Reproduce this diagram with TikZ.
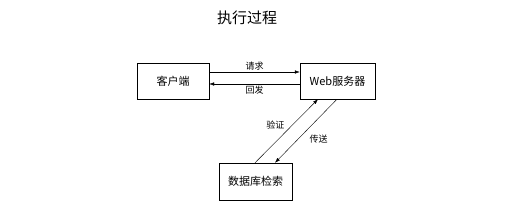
\documentclass[tikz,border=0pt]{standalone}
\usepackage{fontspec}
\setmainfont{Noto Sans CJK SC}
\usetikzlibrary{arrows.meta, positioning}

\begin{document}
\begin{tikzpicture}[x=1pt, y=-1pt,
        box/.style={rectangle, draw, thin, minimum height=36pt, font=\fontsize{11}{13}\selectfont},
        flow/.style={thin, -{Latex[length=5pt, width=3.5pt]}},
        lbl/.style={font=\fontsize{9}{11}\selectfont, inner sep=2pt},
    ]
        \useasboundingbox (0,0) rectangle (528,205);

        % Title
        \node[font=\fontsize{15}{17}\selectfont] (title) at (247,18) {执行过程};

        % Boxes
        \node[box, minimum width=72pt] (client) at (173,81) {客户端};
        \node[box, minimum width=75pt] (web) at (337.5,81) {Web服务器};
        \node[box, minimum width=73pt, minimum height=37pt] (db) at (255.5,181.5) {数据库检索};

        % Client <-> web
        \draw[flow] ([yshift=9pt]client.east) -- node[lbl, above] {请求} ([yshift=9pt]web.west);
        \draw[flow] ([yshift=-3pt]web.west) -- node[lbl, below] {回发} ([yshift=-3pt]client.east);

        % Database <-> web
        \draw[flow] ([xshift=-0.5pt]db.north) -- node[lbl, above left=0pt] {验证} ([xshift=-19.5pt]web.south);
        \draw[flow] ([xshift=-0.5pt]web.south) -- node[lbl, below right=2pt] {传送} ([xshift=19.5pt]db.north);
    \end{tikzpicture}
\end{document}
